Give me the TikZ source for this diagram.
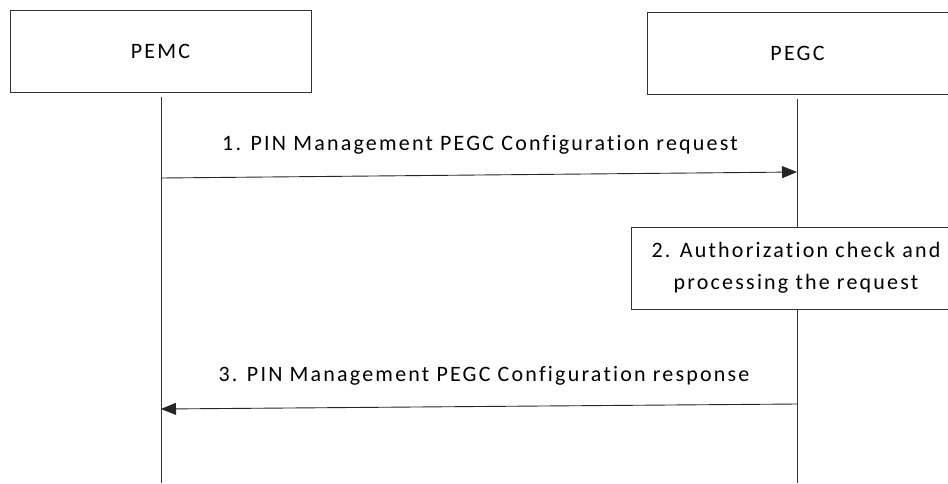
\documentclass[tikz,border=0pt]{standalone}
\usepackage{fontspec}
\setmainfont{Carlito}[LetterSpace=10,Ligatures=NoCommon]
\usetikzlibrary{arrows.meta}
\begin{document}
\begin{tikzpicture}[x=1pt,y=-1pt,
  every node/.style={font=\fontsize{22}{32}\selectfont, text=black},
  entity/.style={draw=black!80, line width=0.8pt, minimum width=301pt, minimum height=82pt, inner sep=0pt},
  procbox/.style={draw=black!80, line width=0.8pt, minimum width=330pt, minimum height=82pt, inner sep=0pt, align=center},
  life/.style={draw=black!80, line width=0.8pt},
  msg/.style={draw=black!85, line width=0.9pt, -{Triangle[length=15pt,width=12pt]}},
  lbl/.style={inner sep=0pt}]
\useasboundingbox (0,0) rectangle (948,483);
\node[entity] (pemc) at (160.5,51.5) {PEMC};
\node[entity] (pegc) at (797.5,53.5) {PEGC};
\coordinate (pemcTop) at (161,97);
\coordinate (pemcBot) at (161,483);
\coordinate (pegcTop) at (797,99);
\coordinate (pegcBot) at (797,483);
\draw[life] (pemcTop) -- (pemcBot);
\draw[life] (pegcTop) -- (pegcBot);
\coordinate (m1s) at (161,178);
\coordinate (m1e) at (797,172);
\draw[msg] (m1s) -- (m1e);
\node[lbl] (l1) at (480,145) {1. PIN Management PEGC Configuration request};
\node[procbox, fill=white] (proc) at (796,268) {2. Authorization check and\\processing the request};
\coordinate (m3s) at (797,404);
\coordinate (m3e) at (161,409);
\draw[msg] (m3s) -- (m3e);
\node[lbl] (l3) at (484,376) {3. PIN Management PEGC Configuration response};
\end{tikzpicture}
\end{document}
